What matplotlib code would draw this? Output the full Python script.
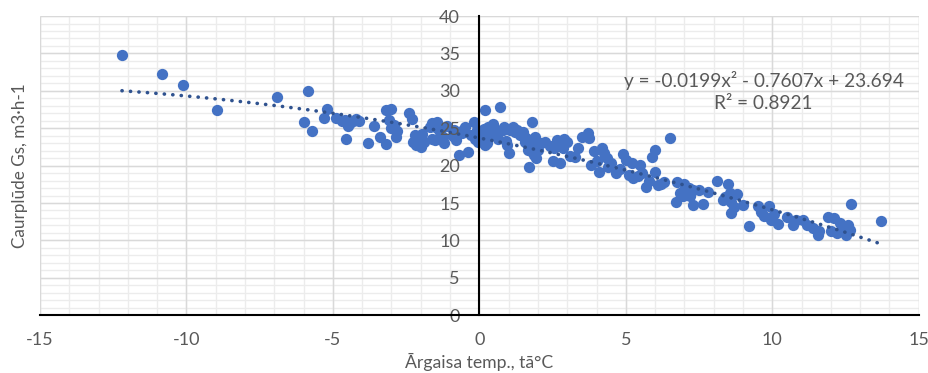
import numpy as np
import matplotlib.pyplot as plt

# outdoor temperature (x) and flow rate Gs (y)
temp = [
    -12.2, -10.85, -10.1, -8.95, -6.9, -5.85, -6.0, -5.7, -5.2, -5.3, -4.9, -4.7,
    -4.6, -4.5, -4.4, -4.3, -4.55, -4.2, -4.1, -3.6, -3.8, -3.4, -3.2, -3.2, -3.0, -3.1, -2.9, -2.8, -2.85, -3.0,
    -2.4, -2.3, -2.2, -2.1, -2.0, -2.25, -1.95, -2.05, -1.9, -2.15,
    -1.7, -1.6, -1.45, -1.45, -1.5, -1.2, -1.25, -1.35, -1.1, -1.6,
    -0.9, -0.8, -0.7, -0.4, -0.55, -0.5, -0.2, -0.3, -0.07, -0.6, -0.15, -0.05, -0.85,
    0.2, 0.7, 0.17, 0.27, 0.15, 0.4, 0.2, 0.3, 0.55, 0.8, 0.65, 0.9, 0.95, 1.0, 0.45, 0.85, 0.1,
    1.05, 1.2, 1.15, 1.3, 1.4, 1.55, 1.8, 1.65, 1.8, 1.9, 1.7, 2.0, 1.85, 1.95, 1.6, 1.5, 1.75, 1.9,
    2.25, 2.1, 2.5, 2.75, 2.65, 3.0, 2.85, 2.4, 2.55, 3.35, 3.5, 3.25, 3.1, 2.9,
    3.7, 3.75, 3.9, 3.8, 4.2, 4.25, 4.1, 4.4, 4.65, 4.9, 5.0, 4.5, 4.0, 4.35, 4.8,
    5.1, 5.25, 5.5, 5.55, 5.7, 5.9, 6.0, 6.0, 6.1, 6.5, 6.3, 5.4, 5.8, 5.2, 6.2,
    6.75, 6.95, 7.3, 6.7, 7.0, 7.15, 7.3, 7.65, 7.5, 7.2, 6.85, 7.8,
    8.1, 8.5, 8.8, 8.3, 8.6, 8.6, 9.0, 9.2, 9.5, 9.6, 9.9, 9.95, 8.55, 8.7, 9.7, 8.4,
    10.2, 10.5, 10.7, 11.05, 11.4, 11.55, 11.9, 12.1, 12.3, 12.6, 12.2, 12.5, 12.7, 13.7,
    10.05, 11.2, 11.6, 12.4, 12.0, 12.65, 10.8,
]
flow = [
    34.8, 32.3, 30.8, 27.4, 29.2, 30.0, 25.8, 24.6, 27.6, 26.3, 26.4, 25.9,
    26.1, 25.3, 25.7, 25.9, 23.6, 26.2, 25.9, 25.3, 23.0, 23.8, 22.9, 27.4, 27.6, 26.1, 25.4, 24.6, 23.8, 25.0,
    27.0, 26.2, 24.1, 23.4, 22.5, 23.2, 24.2, 23.9, 23.2, 22.8,
    25.2, 25.7, 25.8, 25.0, 23.4, 23.0, 23.8, 24.5, 25.3, 23.6,
    24.0, 23.4, 21.4, 21.8, 24.8, 25.2, 25.8, 24.1, 24.8, 24.4, 23.6, 23.2, 24.8,
    27.5, 27.9, 23.7, 23.0, 24.9, 24.4, 22.8, 25.2, 24.9, 24.8, 23.6, 23.3, 22.8, 21.7, 25.5, 25.2, 24.3,
    24.8, 24.5, 25.1, 24.8, 24.1, 23.2, 25.8, 22.1, 22.8, 23.8, 19.8, 22.1, 21.4, 21.0, 23.7, 24.5, 21.9, 22.5,
    23.2, 23.0, 20.6, 20.3, 23.4, 23.2, 22.3, 22.6, 22.4, 22.4, 23.8, 21.1, 21.3, 23.6,
    24.4, 23.7, 21.9, 20.1, 22.4, 21.7, 19.1, 19.8, 19.0, 21.5, 20.7, 20.4, 20.6, 21.0, 19.6,
    18.7, 18.3, 20.1, 19.0, 17.1, 21.2, 22.1, 19.1, 17.4, 23.7, 17.8, 18.6, 18.0, 20.4, 17.6,
    17.8, 16.0, 16.7, 15.1, 17.5, 17.0, 14.7, 14.9, 16.7, 15.9, 16.4, 16.5,
    17.9, 17.5, 16.2, 15.4, 15.1, 13.6, 14.7, 11.9, 14.6, 13.8, 14.6, 12.7, 16.4, 14.4, 13.3, 15.8,
    12.2, 13.1, 12.0, 12.7, 11.6, 10.7, 13.1, 13.0, 12.3, 12.0, 11.0, 10.7, 14.9, 12.6,
    13.5, 12.0, 11.2, 11.7, 11.2, 11.4, 12.7,
]

# polynomial trendline coefficients (from the chart label)
coef = [-0.0199, -0.7607, 23.694]
r2 = 0.8921

plt.rcParams['font.family'] = ['Lato', 'DejaVu Sans']
plt.rcParams['axes.unicode_minus'] = False
txt_color = '#595959'

fig = plt.figure(figsize=(9.29, 3.73), dpi=100)
ax = fig.add_axes([0.043, 0.155, 0.946, 0.802])
ax.set_xlim(-15, 15)
ax.set_ylim(0, 40)

# gridlines drawn by hand so the tick labels stay above the points
ax.vlines(np.arange(-15, 16, 1), 0, 40, color='#ececec', lw=1, zorder=0)
ax.hlines(np.arange(0, 41, 1), -15, 15, color='#ececec', lw=1, zorder=0)
ax.vlines(np.arange(-15, 16, 5), 0, 40, color='#d9d9d9', lw=1, zorder=0)
ax.hlines(np.arange(0, 41, 5), -15, 15, color='#d9d9d9', lw=1, zorder=0)

ax.scatter(temp, flow, s=66, color='#4472C4', zorder=1, linewidths=0)

xs = np.linspace(min(temp), max(temp), 200)
ax.plot(xs, np.polyval(coef, xs), color='#2F528F', lw=2.6,
        linestyle=(0, (0.05, 2.3)), dash_capstyle='round', zorder=1.5)

ax.text(9.7, 29.9, f"y = {coef[0]}x² - {abs(coef[1])}x + {coef[2]}\nR² = {r2}",
        ha='center', va='center', multialignment='center', fontsize=13.7,
        color=txt_color, linespacing=1.35)

ax.spines['left'].set_position(('data', 0))
ax.spines['left'].set_color('black')
ax.spines['left'].set_linewidth(1.5)
ax.spines['bottom'].set_color('black')
ax.spines['bottom'].set_linewidth(1.5)
ax.spines['top'].set_visible(False)
ax.spines['right'].set_visible(False)

ax.set_xticks(np.arange(-15, 16, 5))
ax.set_yticks(np.arange(0, 41, 5))
ax.tick_params(axis='x', length=0, pad=12, labelsize=13, labelcolor=txt_color)
ax.tick_params(axis='y', length=0, pad=14, labelsize=13, labelcolor=txt_color)

ax.set_xlabel("Ārgaisa temp., tā°C", fontsize=12.7, color=txt_color, labelpad=4)
fig.text(0.022, 0.556, "Caurplūde Gs, m3·h-1", rotation=90, ha='center', va='center',
         fontsize=12.3, color=txt_color)

fig.savefig("out.png", dpi=100)
